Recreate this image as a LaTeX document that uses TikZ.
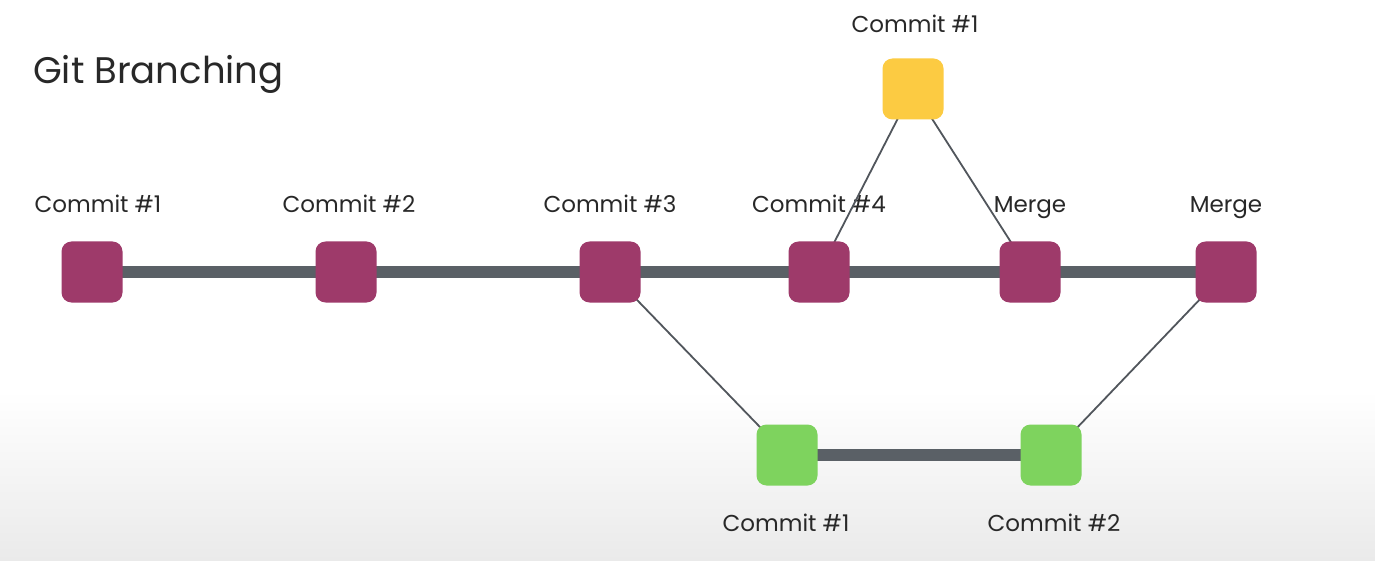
\documentclass[tikz,border=0pt]{standalone}
\usepackage{fontspec}
\setmainfont{Poppins}
\definecolor{mag}{RGB}{158,58,106}
\definecolor{yel}{RGB}{252,203,66}
\definecolor{grn}{RGB}{126,211,94}
\definecolor{bar}{RGB}{90,96,102}
\definecolor{txt}{RGB}{40,40,40}
\definecolor{bgb}{RGB}{234,234,234}
\tikzset{
  commit/.style={rounded corners=10pt, minimum size=61pt, inner sep=0pt},
  mainc/.style={commit, fill=mag},
  yelc/.style={commit, fill=yel},
  grnc/.style={commit, fill=grn},
  lbl/.style={text=txt, font=\fontsize{23}{23}\selectfont, inner sep=0pt, anchor=base},
  trunk/.style={line width=12pt, draw=bar},
  twig/.style={line width=1.8pt, draw=bar!90!black},
}
\begin{document}
\begin{tikzpicture}[x=1pt,y=-1pt]
\useasboundingbox (0,0) rectangle (1375,561);
\fill[white] (0,0) rectangle (1375,390);
\shade[top color=white, bottom color=bgb] (0,390) rectangle (1375,561);
\node[text=txt, font=\fontsize{37}{37}\selectfont, anchor=base west, inner sep=0pt] (title) at (33,84) {Git Branching};
% labels
\node[lbl] (l1) at (98,213) {Commit \#1};
\node[lbl] (l2) at (349,213) {Commit \#2};
\node[lbl] (l3) at (610,213) {Commit \#3};
\node[lbl] (l4) at (819,213) {Commit \#4};
\node[lbl] (l5) at (1030,213) {Merge};
\node[lbl] (l6) at (1226,213) {Merge};
\node[lbl] (ly) at (915,33) {Commit \#1};
\node[lbl] (lg1) at (786,531) {Commit \#1};
\node[lbl] (lg2) at (1054,531) {Commit \#2};
% coordinates
\coordinate (p1) at (92,272);
\coordinate (p2) at (346,272);
\coordinate (p3) at (610,272);
\coordinate (p4) at (819,272);
\coordinate (p5) at (1030,272);
\coordinate (p6) at (1226,272);
\coordinate (py) at (913,89);
\coordinate (pg1) at (787,455);
\coordinate (pg2) at (1051,455);
% connectors
\draw[twig] (p3) -- (pg1);
\draw[twig] (pg2) -- (p6);
\draw[twig] (py) -- (p4);
\draw[twig] (py) -- (p5);
\draw[trunk] (p1) -- (p6);
\draw[trunk] (pg1) -- (pg2);
% nodes
\node[mainc] (c1) at (p1) {};
\node[mainc] (c2) at (p2) {};
\node[mainc] (c3) at (p3) {};
\node[mainc] (c4) at (p4) {};
\node[mainc] (m1) at (p5) {};
\node[mainc] (m2) at (p6) {};
\node[yelc] (y1) at (py) {};
\node[grnc] (g1) at (pg1) {};
\node[grnc] (g2) at (pg2) {};
\end{tikzpicture}
\end{document}
